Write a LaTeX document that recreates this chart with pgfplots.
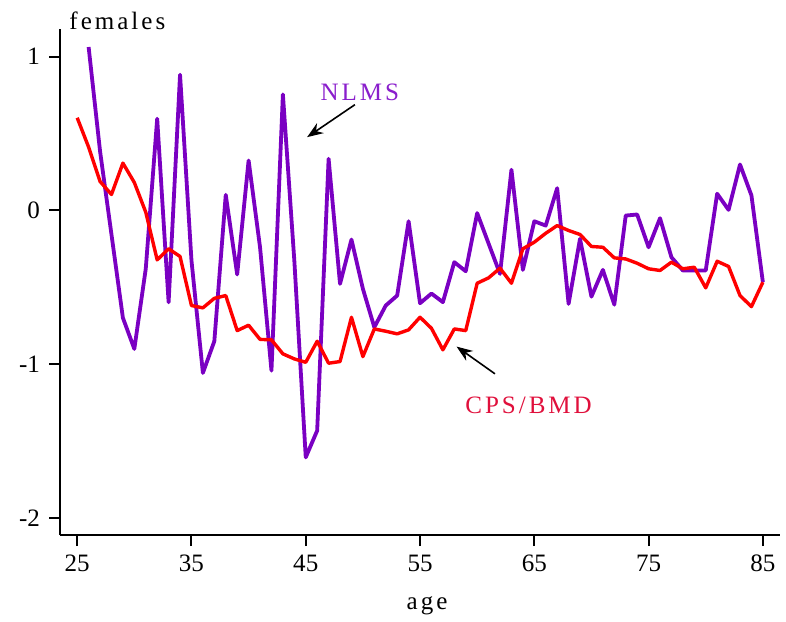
\documentclass[border=0pt]{standalone}
\usepackage{fontspec}
\setmainfont{Liberation Serif}
\newfontfamily\spaced[LetterSpace=12]{Liberation Serif}
\usepackage{pgfplots}
\pgfplotsset{compat=1.18}
\usetikzlibrary{arrows.meta,calc}
\definecolor{nlms}{HTML}{7A00C2}
\definecolor{nlmstext}{HTML}{8A1ECC}
\definecolor{cps}{HTML}{FF0000}
\definecolor{cpstext}{HTML}{E0103C}
\begin{document}
\begin{tikzpicture}
\begin{axis}[
  name=ax,
  scale only axis,
  width=359.7pt, height=252.8pt,
  xmin=23.5, xmax=86.5,
  ymin=-2.11, ymax=1.18,
  axis x line*=bottom,
  axis y line*=left,
  axis line style={line width=1pt, black},
  tick style={line width=1pt, black},
  tick align=outside,
  major tick length=5.5pt,
  xtick={25,35,45,55,65,75,85},
  xticklabels={25,35,45,55,65,75,85},
  ytick={-2,-1,0,1},
  yticklabels={-2,-1,0,1},
  tick label style={font=\fontsize{12.5}{15}\selectfont},
  xticklabel style={yshift=-1pt},
  yticklabel style={xshift=-1pt},
  xlabel={\spaced age},
  xlabel style={font=\fontsize{12.5}{15}\selectfont, at={(rel axis cs:0.5,0)}, anchor=base, yshift=-37pt, xshift=3.5pt},
  clip=false,
]
% NLMS
\addplot[nlms, line width=1.9pt, line join=round] coordinates {
(26,1.063) (27,0.386) (28,-0.156) (29,-0.698) (30,-0.900) (31,-0.379)
(32,0.597) (33,-0.597) (34,0.883) (35,-0.325) (36,-1.056) (37,-0.850)
(38,0.102) (39,-0.416) (40,0.325) (41,-0.239) (42,-1.041) (43,0.755)
(44,-0.325) (45,-1.605) (46,-1.431) (47,0.336) (48,-0.477) (49,-0.189)
(50,-0.509) (51,-0.759) (52,-0.618) (53,-0.553) (54,-0.070) (55,-0.603)
(56,-0.540) (57,-0.596) (58,-0.336) (59,-0.395) (60,-0.017) (61,-0.215)
(62,-0.412) (63,0.265) (64,-0.386) (65,-0.070) (66,-0.098) (67,0.145)
(68,-0.607) (69,-0.184) (70,-0.560) (71,-0.386) (72,-0.612) (73,-0.033)
(74,-0.026) (75,-0.239) (76,-0.050) (77,-0.304) (78,-0.390) (79,-0.390)
(80,-0.390) (81,0.109) (82,0.004) (83,0.299) (84,0.098) (85,-0.466)
};
% CPS/BMD
\addplot[cps, line width=1.7pt, line join=round] coordinates {
(25,0.603) (26,0.412) (27,0.189) (28,0.104) (29,0.308) (30,0.182)
(31,-0.011) (32,-0.321) (33,-0.249) (34,-0.299) (35,-0.618) (36,-0.633)
(37,-0.571) (38,-0.553) (39,-0.781) (40,-0.746) (41,-0.838) (42,-0.841)
(43,-0.932) (44,-0.965) (45,-0.987) (46,-0.850) (47,-0.993) (48,-0.982)
(49,-0.694) (50,-0.950) (51,-0.770) (52,-0.785) (53,-0.802) (54,-0.776)
(55,-0.694) (56,-0.766) (57,-0.906) (58,-0.770) (59,-0.781) (60,-0.473)
(61,-0.438) (62,-0.375) (63,-0.473) (64,-0.249) (65,-0.206) (66,-0.148)
(67,-0.098) (68,-0.130) (69,-0.156) (70,-0.234) (71,-0.239) (72,-0.308)
(73,-0.315) (74,-0.343) (75,-0.379) (76,-0.390) (77,-0.336) (78,-0.379)
(79,-0.369) (80,-0.503) (81,-0.330) (82,-0.364) (83,-0.553) (84,-0.625)
(85,-0.466)
};
\draw[-{Stealth[length=8pt,width=6pt]}, line width=0.8pt] (axis cs:49.30,0.688) -- (axis cs:45.12,0.477);
\draw[-{Stealth[length=8pt,width=6pt]}, line width=0.8pt] (axis cs:61.56,-1.062) -- (axis cs:58.20,-0.885);
\node[anchor=base west, inner sep=0pt, text=nlmstext, font=\fontsize{12.5}{15}\selectfont\spaced] at (axis cs:46.26,0.716) {NLMS};
\node[anchor=base west, inner sep=0pt, text=cpstext, font=\fontsize{12.5}{15}\selectfont\spaced] at (axis cs:58.93,-1.323) {CPS/BMD};
\node[anchor=base west, inner sep=0pt, xshift=4.5pt, font=\fontsize{12.5}{15}\selectfont\spaced] at (rel axis cs:0,1) {females};
\end{axis}
\pgfresetboundingbox
\path[use as bounding box] ($(ax.south west)+(-30pt,-43pt)$) rectangle ($(ax.north east)+(3pt,14.5pt)$);
\end{tikzpicture}
\end{document}
